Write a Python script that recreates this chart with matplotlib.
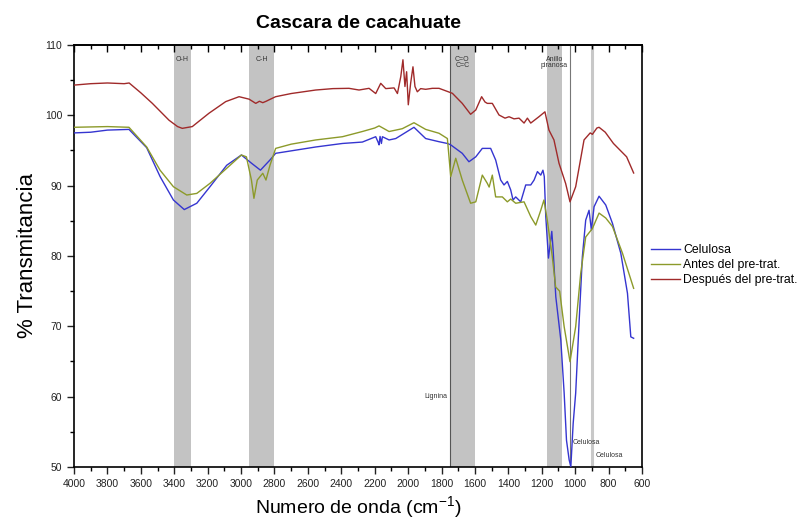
import matplotlib
matplotlib.use("Agg")
import matplotlib.pyplot as plt
from matplotlib.ticker import MultipleLocator

plt.rcParams["font.family"] = ["Liberation Sans", "DejaVu Sans"]
plt.rcParams["mathtext.fontset"] = "custom"
plt.rcParams["mathtext.rm"] = "Liberation Sans"
plt.rcParams["mathtext.it"] = "Liberation Sans"

title = "Cascara de cacahuate"
xlabel = "Numero de onda (cm$^{-1}$)"
ylabel = "% Transmitancia"
series_names = ["Celulosa", "Antes del pre-trat.", "Después del pre-trat."]
series_colors = ["#3535d0", "#8c9a2a", "#a02a2a"]

# Celulosa (blue)
cel_x = [4000, 3900, 3800, 3671, 3565, 3485, 3405, 3340, 3265, 3186, 3086, 2998, 2938, 2884, 2827,
         2793, 2553, 2393, 2274, 2194, 2180, 2174, 2168, 2160, 2154, 2114, 2074, 1965, 1895, 1815,
         1765, 1745, 1676, 1636, 1595, 1556, 1506, 1476, 1446, 1426, 1406, 1386, 1372, 1356, 1326,
         1296, 1266, 1246, 1226, 1206, 1193, 1185, 1176, 1160, 1140, 1132, 1116, 1086, 1066, 1052,
         1036, 1026, 1012, 997, 977, 957, 937, 917, 903, 887, 857, 817, 777, 727, 687, 667, 650]
cel_y = [97.5, 97.6, 97.9, 98.0, 95.4, 91.3, 87.96, 86.6, 87.5, 89.85, 92.9, 94.36, 93.2, 92.2, 93.65,
         94.6, 95.5, 96.0, 96.2, 96.96, 96.2, 95.8, 97.0, 96.0, 96.96, 96.5, 96.7, 98.3, 96.7, 96.25,
         96.0, 95.8, 94.6, 93.4, 94.1, 95.3, 95.3, 93.65, 90.8, 90.1, 90.6, 89.4, 87.96, 88.4, 87.7,
         90.1, 90.1, 90.8, 92.0, 91.5, 92.2, 91.3, 85.6, 79.7, 83.5, 80.85, 74.2, 68.05, 60.5, 53.8,
         51.0, 50.04, 56.2, 60.5, 70.4, 79.9, 85.1, 86.5, 83.7, 87.0, 88.5, 87.25, 84.65, 80.4, 74.7, 68.5, 68.3]

# Antes del pre-tratamiento (olive)
ant_x = [4000, 3800, 3671, 3565, 3485, 3405, 3325, 3265, 3186, 3086, 2998, 2968, 2938, 2923, 2903,
         2870, 2851, 2827, 2793, 2700, 2553, 2393, 2274, 2200, 2174, 2114, 2074, 2035, 1965, 1895,
         1815, 1765, 1745, 1715, 1676, 1626, 1595, 1556, 1526, 1515, 1496, 1476, 1436, 1406, 1386,
         1356, 1306, 1266, 1236, 1206, 1187, 1167, 1137, 1117, 1093, 1066, 1031, 997, 967, 937,
         897, 857, 817, 777, 717, 650]
ant_y = [98.3, 98.4, 98.3, 95.5, 92.2, 89.85, 88.67, 88.9, 90.33, 92.47, 94.36, 94.1, 90.8, 88.2, 90.8,
         91.76, 90.8, 92.9, 95.3, 95.9, 96.5, 96.96, 97.7, 98.2, 98.5, 97.7, 97.9, 98.1, 98.95, 98.0,
         97.45, 96.7, 91.3, 93.9, 90.8, 87.5, 87.7, 91.5, 90.33, 89.8, 91.5, 88.4, 88.4, 87.7, 88.1,
         87.5, 87.7, 85.6, 84.4, 86.5, 87.96, 85.1, 79.9, 75.6, 75.0, 69.95, 64.97, 69.95, 77.5, 82.7,
         83.9, 86.1, 85.4, 84.2, 80.4, 75.4]

# Despues del pre-tratamiento (dark red)
des_x = [4000, 3900, 3800, 3700, 3670, 3600, 3531, 3431, 3380, 3352, 3292, 3250, 3192, 3092, 3012,
         2952, 2912, 2890, 2870, 2850, 2833, 2793, 2700, 2553, 2450, 2354, 2294, 2234, 2194, 2164,
         2134, 2084, 2064, 2044, 2031, 2019, 2009, 1999, 1985, 1971, 1959, 1945, 1925, 1895, 1855,
         1815, 1765, 1735, 1676, 1626, 1595, 1560, 1540, 1526, 1496, 1456, 1420, 1396, 1366, 1336,
         1306, 1286, 1266, 1217, 1181, 1157, 1127, 1097, 1057, 1031, 997, 947, 910, 897, 870, 857,
         820, 771, 692, 650]
des_y = [104.3, 104.5, 104.6, 104.5, 104.6, 103.2, 101.7, 99.3, 98.4, 98.15, 98.4, 99.2, 100.3, 101.95, 102.65,
         102.3, 101.7, 102.0, 101.8, 102.0, 102.2, 102.65, 103.1, 103.6, 103.8, 103.84, 103.6, 103.84, 103.1, 104.55,
         103.8, 103.9, 103.1, 105.5, 107.9, 104.1, 106.2, 101.5, 104.55, 106.9, 104.1, 103.35, 103.8, 103.7, 103.84,
         103.84, 103.4, 103.13, 101.7, 100.15, 100.76, 102.65, 101.9, 101.7, 101.7, 100.05, 99.6, 99.8, 99.5, 99.6,
         98.9, 99.6, 98.9, 99.8, 100.5, 97.9, 96.5, 93.2, 90.3, 87.7, 89.85, 96.5, 97.5, 97.3, 98.2, 98.3,
         97.6, 96.0, 94.1, 91.8]

# band annotations
bands = [(3400, 3300), (2950, 2800), (1750, 1600), (1170, 1080)]
band_labels = ["O-H", "C-H", "C=O\nC=C", "Anillo\npiranosa"]

fig = plt.figure(figsize=(8.01, 5.27), dpi=100)
ax = fig.add_axes([0.0924, 0.1139, 0.7091, 0.8007])

for (a, b), lab in zip(bands, band_labels):
    ax.axvspan(b, a, color="#c3c3c3", lw=0, zorder=0)
    ax.text((a + b) / 2, 108.5, lab, ha="center", va="top", fontsize=5, color="#333333", linespacing=0.95)

ax.axvline(1750, color="#555555", lw=0.8, zorder=1)
ax.axvline(1030, color="#777777", lw=0.8, zorder=1)
ax.axvline(897, color="#c8c8c8", lw=2.2, zorder=0)

ax.text(1765, 60.0, "Lignina", ha="right", va="center", fontsize=5, color="#333333")
ax.text(1015, 53.5, "Celulosa", ha="left", va="center", fontsize=5, color="#333333")
ax.text(880, 51.7, "Celulosa", ha="left", va="center", fontsize=5, color="#333333")

for xs, ys, name, c in [(cel_x, cel_y, series_names[0], series_colors[0]),
                        (ant_x, ant_y, series_names[1], series_colors[1]),
                        (des_x, des_y, series_names[2], series_colors[2])]:
    ax.plot(xs, ys, color=c, lw=1.0, label=name, zorder=3)

ax.set_xlim(4000, 600)
ax.set_ylim(50, 110)
ax.xaxis.set_major_locator(MultipleLocator(200))
ax.xaxis.set_minor_locator(MultipleLocator(100))
ax.yaxis.set_major_locator(MultipleLocator(10))
ax.yaxis.set_minor_locator(MultipleLocator(5))
ax.tick_params(axis="both", which="major", labelsize=7.5, length=5, width=1, colors="#222222", direction="out")
ax.tick_params(axis="both", which="minor", length=3, width=1, direction="out")
ax.tick_params(axis="x", which="both", top=False)

sec = ax.secondary_xaxis("top")
sec.xaxis.set_major_locator(MultipleLocator(200))
sec.xaxis.set_minor_locator(MultipleLocator(100))
sec.tick_params(axis="x", which="major", direction="in", length=5, width=1, labeltop=False)
sec.tick_params(axis="x", which="minor", direction="in", length=3, width=1)
sec.spines["top"].set_linewidth(1.2)

for spine in ax.spines.values():
    spine.set_linewidth(1.2)

ax.set_title(title, fontsize=14, fontweight="bold", pad=12)
ax.set_xlabel(xlabel, fontsize=14)
ax.set_ylabel(ylabel, fontsize=16, labelpad=5)

ax.legend(loc="upper left", bbox_to_anchor=(1.008, 0.54), frameon=False, fontsize=8.8,
          handlelength=2.3, handletextpad=0.3, labelspacing=0.25, borderaxespad=0)

fig.savefig("out.png", dpi=100)
